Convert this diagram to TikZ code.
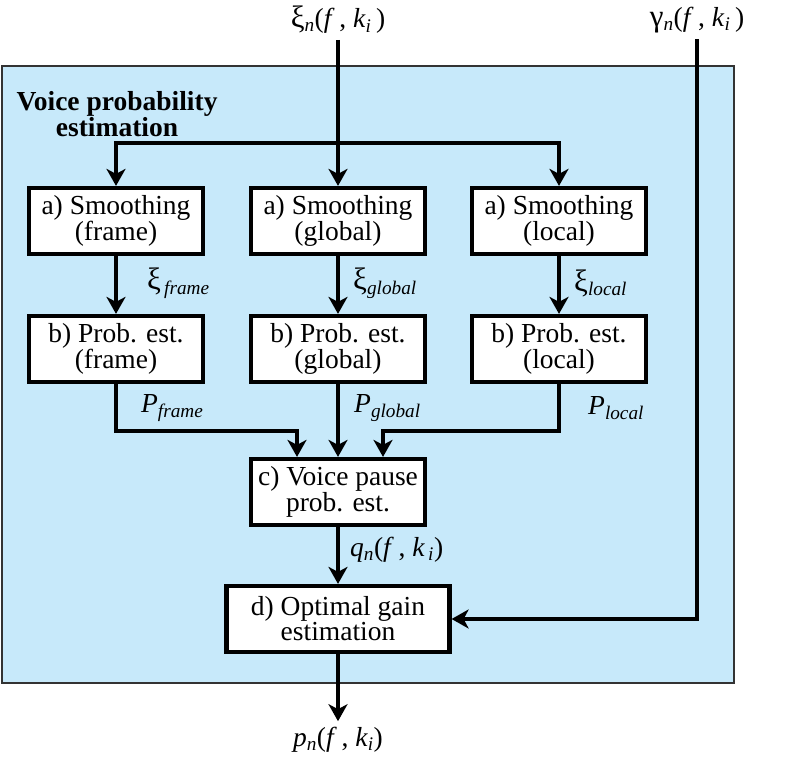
\documentclass[tikz,border=0pt]{standalone}
\usepackage{fontspec}
\setmainfont{Liberation Serif}
\usetikzlibrary{arrows.meta}
\definecolor{panelBlue}{RGB}{199,233,250}
\newcommand{\grk}[1]{{\fontsize{31}{28}\selectfont #1}}

\begin{document}
\begin{tikzpicture}
    [x = 1pt, y = -1pt,
     every node/.style = {font = \fontsize{27.5}{24}\selectfont},
     labelNode/.style = {inner sep = 0pt, anchor = west},
     ioNode/.style = {inner sep = 6pt},
     titleNode/.style = {inner sep = 0pt, align = center,
                         font = \fontsize{27.5}{25}\selectfont\bfseries},
     procBox/.style = {draw, fill = white, line width = 4.2pt,
                       align = center, inner sep = 2pt,
                       minimum width = 174pt, minimum height = 66pt},
     wideBox/.style = {procBox, minimum width = 223pt},
     flow/.style = {line width = 4.2pt,
                    -{Stealth[length = 17pt, width = 19pt, inset = 5pt]}}]

    \useasboundingbox (0,0) rectangle (800,757);
    \fill [panelBlue, draw = black!80, line width = 1.5pt]
      (2,66) rectangle (734,683);

    \node at (117,114) [titleNode] (title)
      {Voice probability\\estimation};

    \node at (338,20) [ioNode] (xiIn)
      {\grk{ξ}\textsubscript{\textit{n}}(\textit{f}\,, \textit{k}\textsubscript{\textit{i}}\,)};
    \node at (697,20) [ioNode] (gammaIn)
      {\grk{γ}\textsubscript{\textit{n}}(\textit{f}\,, \textit{k}\textsubscript{\textit{i}}\,)};
    \coordinate (split) at (338,143);

    \node at (116,221) [procBox] (smFrame)  {a) Smoothing\\(frame)};
    \node at (338,221) [procBox] (smGlobal) {a) Smoothing\\(global)};
    \node at (559,221) [procBox] (smLocal)  {a) Smoothing\\(local)};

    \node at (116,349) [procBox] (probFrame)  {b) Prob. est.\\(frame)};
    \node at (338,349) [procBox] (probGlobal) {b) Prob. est.\\(global)};
    \node at (559,349) [procBox] (probLocal)  {b) Prob. est.\\(local)};

    \node at (338,492) [procBox]  (voicePause) {c) Voice pause\\prob. est.};
    \node at (338,619) [wideBox]  (optGain)    {d) Optimal gain\\estimation};
    \node at (338,740) [ioNode]   (pOut)
      {\textit{p}\textsubscript{\textit{n}}(\textit{f}\,, \textit{k}\textsubscript{\textit{i}})};

    % labels beside the arrows
    \node at (147,283) [labelNode] {\grk{ξ}\textsubscript{\,\textit{frame}}};
    \node at (353,283) [labelNode] {\grk{ξ}\textsubscript{\textit{global}}};
    \node at (574,283) [labelNode] {\grk{ξ}\textsubscript{\textit{local}}};
    \node at (141,408) [labelNode] {\textit{P}\textsubscript{\textit{frame}}};
    \node at (354,408) [labelNode] {\textit{P}\textsubscript{\textit{global}}};
    \node at (588,408) [labelNode] {\textit{P}\textsubscript{\textit{local}}};
    \node at (350,550) [labelNode]
      {\textit{q}\textsubscript{\textit{n}}(\textit{f}\,, \textit{k}\textsubscript{\,\textit{i}})};

    \draw [flow] (xiIn) -- (smGlobal);
    \draw [flow] (split) -| (smFrame);
    \draw [flow] (split) -| (smLocal);

    \path
      (smFrame)  edge [flow] (probFrame)
      (smGlobal) edge [flow] (probGlobal)
      (smLocal)  edge [flow] (probLocal)
      (probGlobal) edge [flow] (voicePause)
      (voicePause) edge [flow] (optGain)
      (optGain)  edge [flow] (pOut);

    \draw [flow] (probFrame.south) -- ++(0,47)
      -| ([xshift = -41pt]voicePause.north);
    \draw [flow] (probLocal.south) -- ++(0,47)
      -| ([xshift = 45pt]voicePause.north);
    \draw [flow] (gammaIn) |- (optGain);
  \end{tikzpicture}
\end{document}
